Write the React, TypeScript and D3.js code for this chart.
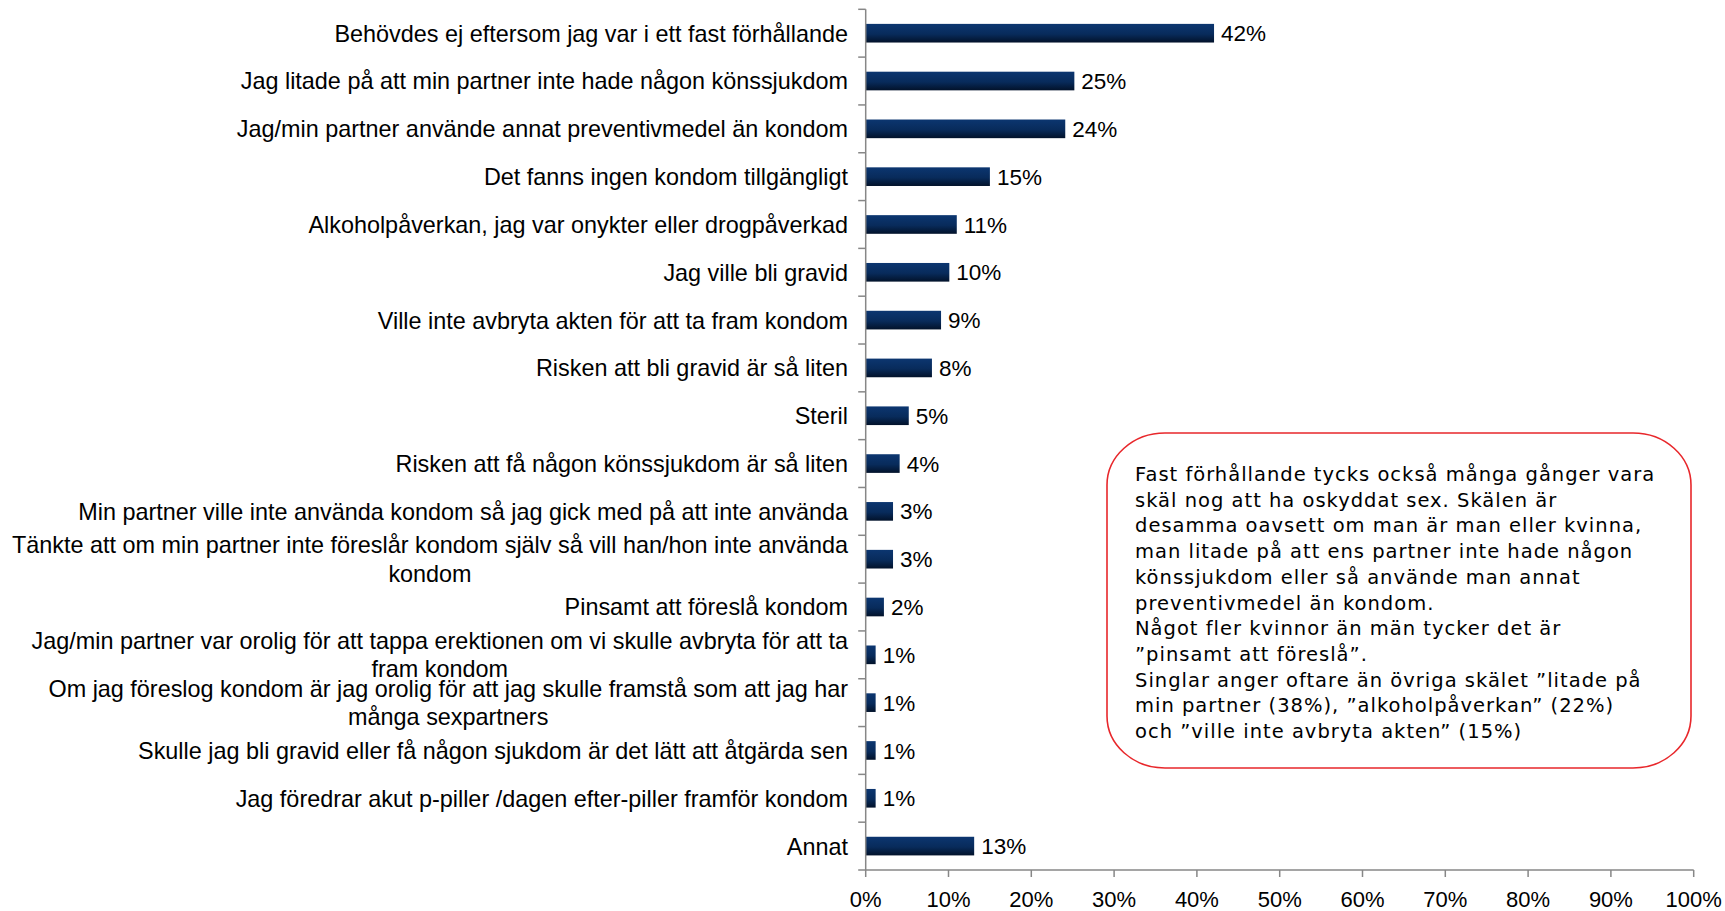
import React from "react";
import * as d3 from "d3";

const categories: string[][] = [
  ["Behövdes ej eftersom jag var i ett fast förhållande"],
  ["Jag litade på att min partner inte hade någon könssjukdom"],
  ["Jag/min partner använde annat preventivmedel än kondom"],
  ["Det fanns ingen kondom tillgängligt"],
  ["Alkoholpåverkan, jag var onykter eller drogpåverkad"],
  ["Jag ville bli gravid"],
  ["Ville inte avbryta akten för att ta fram kondom"],
  ["Risken att bli gravid är så liten"],
  ["Steril"],
  ["Risken att få någon könssjukdom är så liten"],
  ["Min partner ville inte använda kondom så jag gick med på att inte använda"],
  ["Tänkte att om min partner inte föreslår kondom själv så vill han/hon inte använda", "kondom"],
  ["Pinsamt att föreslå kondom"],
  ["Jag/min partner var orolig för att tappa erektionen om vi skulle avbryta för att ta", "fram kondom"],
  ["Om jag föreslog kondom är jag orolig för att jag skulle framstå som att jag har", "många sexpartners"],
  ["Skulle jag bli gravid eller få någon sjukdom är det lätt att åtgärda sen"],
  ["Jag föredrar akut p-piller /dagen efter-piller framför kondom"],
  ["Annat"],
];

const values: number[] = [
  0.4207, 0.252, 0.241, 0.15, 0.11, 0.101, 0.091, 0.08, 0.052, 0.041, 0.033, 0.033, 0.022, 0.012, 0.012, 0.012, 0.012, 0.131,
];

const xTicks: number[] = [0, 0.1, 0.2, 0.3, 0.4, 0.5, 0.6, 0.7, 0.8, 0.9, 1.0];

const noteLines: string[] = [
  "Fast förhållande tycks också många gånger vara",
  "skäl nog att ha oskyddat sex. Skälen är",
  "desamma oavsett om man är man eller kvinna,",
  "man litade på att ens partner inte hade någon",
  "könssjukdom eller så använde man annat",
  "preventivmedel än kondom.",
  "Något fler kvinnor än män tycker det är",
  "”pinsamt att föreslå”.",
  "Singlar anger oftare än övriga skälet ”litade på",
  "min partner (38%), ”alkoholpåverkan” (22%)",
  "och ”ville inte avbryta akten” (15%)",
];

const W = 1725;
const H = 911;
const LABEL_SIZE = 23.4;
const LABEL_FONT = `${LABEL_SIZE}px 'Liberation Sans', Arial, sans-serif`;

let ctx: CanvasRenderingContext2D | null = null;
function measure(text: string, font: string): number {
  if (!ctx) {
    const c = document.createElement("canvas");
    ctx = c.getContext("2d");
  }
  if (!ctx) return text.length * 10;
  ctx.font = font;
  return ctx.measureText(text).width;
}

export default function App() {
  const left = 865.7;
  const right = 1693.7;
  const top = 9.3;
  const bottom = 870;

  const x = d3.scaleLinear().domain([0, 1]).range([left, right]);
  const y = d3
    .scaleBand<number>()
    .domain(d3.range(categories.length))
    .range([top, bottom])
    .paddingInner(0.61)
    .paddingOuter(0.305);
  const step = (bottom - top) / categories.length;
  const fmt = d3.format(".0%");
  const axisColor = "#878787";
  const labelRight = 848;
  const lineGap = 28.5;

  return (
    <svg
      width={W}
      height={H}
      style={{ position: "absolute", left: 0, top: 0, display: "block", background: "#fff" }}
    >
      <defs>
        <linearGradient id="barGrad" x1="0" y1="0" x2="0" y2="1">
          <stop offset="0%" stopColor="#0c3670" />
          <stop offset="55%" stopColor="#082b5b" />
          <stop offset="100%" stopColor="#02122a" />
        </linearGradient>
      </defs>

      {/* bars */}
      {values.map((v, i) => (
        <rect
          key={"b" + i}
          x={x(0)}
          y={y(i)!}
          width={x(v) - x(0)}
          height={y.bandwidth()}
          fill="url(#barGrad)"
        />
      ))}

      {/* value labels */}
      {values.map((v, i) => (
        <text
          key={"v" + i}
          x={x(v) + 7}
          y={y(i)! + y.bandwidth() / 2}
          dy="0.36em"
          fontFamily="'Liberation Sans', Arial, sans-serif"
          fontSize={22.5}
          fill="#000"
        >
          {fmt(v)}
        </text>
      ))}

      {/* category labels */}
      {categories.map((lines, i) => {
        const cy = y(i)! + y.bandwidth() / 2;
        if (lines.length === 1) {
          return (
            <text
              key={"c" + i}
              x={labelRight}
              y={cy}
              dy="0.36em"
              textAnchor="end"
              fontFamily="'Liberation Sans', Arial, sans-serif"
              fontSize={LABEL_SIZE}
              fill="#000"
            >
              {lines[0]}
            </text>
          );
        }
        const w1 = measure(lines[0], LABEL_FONT);
        const center = labelRight - w1 / 2;
        const y0 = cy - ((lines.length - 1) * lineGap) / 2;
        return (
          <g key={"c" + i}>
            {lines.map((ln, j) => (
              <text
                key={j}
                x={center}
                y={y0 + j * lineGap}
                dy="0.36em"
                textAnchor="middle"
                fontFamily="'Liberation Sans', Arial, sans-serif"
                fontSize={LABEL_SIZE}
                fill="#000"
              >
                {ln}
              </text>
            ))}
          </g>
        );
      })}

      {/* category axis */}
      <line x1={left} x2={left} y1={top} y2={bottom} stroke={axisColor} strokeWidth={1.5} />
      {d3.range(categories.length + 1).map((k) => (
        <line
          key={"yt" + k}
          x1={left - 7.5}
          x2={left}
          y1={top + k * step}
          y2={top + k * step}
          stroke={axisColor}
          strokeWidth={1.5}
        />
      ))}

      {/* value axis */}
      <line x1={left} x2={right} y1={bottom} y2={bottom} stroke={axisColor} strokeWidth={1.5} />
      {xTicks.map((t) => (
        <g key={"xt" + t}>
          <line x1={x(t)} x2={x(t)} y1={bottom} y2={bottom + 7} stroke={axisColor} strokeWidth={1.5} />
          <text
            x={x(t)}
            y={907}
            textAnchor="middle"
            fontFamily="'Liberation Sans', Arial, sans-serif"
            fontSize={22}
            fill="#000"
          >
            {fmt(t)}
          </text>
        </g>
      ))}

      {/* annotation box */}
      <rect
        x={1107}
        y={433}
        width={584}
        height={335}
        rx={58}
        ry={52}
        fill="#fff"
        stroke="#e8272b"
        strokeWidth={1.6}
      />
      {noteLines.map((ln, i) => (
        <text
          key={"n" + i}
          x={1135}
          y={481 + i * 25.7}
          fontFamily="'DejaVu Sans', Verdana, sans-serif"
          fontSize={19.5}
          letterSpacing={1}
          fill="#000"
        >
          {ln}
        </text>
      ))}
    </svg>
  );
}
